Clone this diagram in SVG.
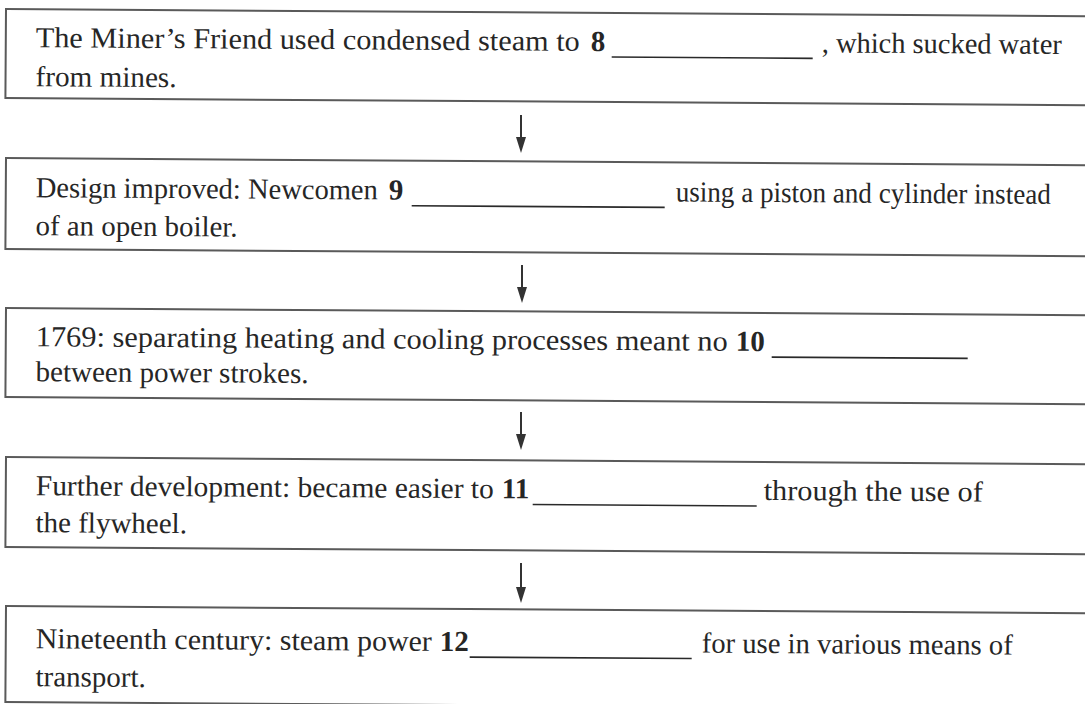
<svg xmlns="http://www.w3.org/2000/svg" width="1085" height="704" viewBox="0 0 1085 704">
  <style>
    .box { fill: #ffffff; stroke: #5a5a5a; stroke-width: 2; }
    .t { font-family: "Liberation Serif", "Times New Roman", serif; font-size: 29px; fill: #262626; }
    .b { font-weight: bold; }
    .blank { stroke: #2a2a2a; stroke-width: 1.6; }
    .conn { stroke: #333333; stroke-width: 2; fill: none; }
  </style>
  <defs>
    <marker id="arrow" viewBox="0 0 16 10" refX="6" refY="5" markerWidth="16" markerHeight="10" markerUnits="userSpaceOnUse" orient="auto">
      <path d="M0,0 L16,5 L0,10 z" fill="#333333"/>
    </marker>
  </defs>
  <rect x="0" y="0" width="1085" height="704" fill="#ffffff"/>

  <g id="step1" transform="rotate(0.38 6 9)">
    <rect class="box" x="6" y="9" width="1100" height="89"/>
    <text class="t" x="36" y="47" textLength="544" lengthAdjust="spacingAndGlyphs">The Miner’s Friend used condensed steam to</text>
    <text class="t b" x="591" y="47">8</text>
    <line class="blank" x1="612" y1="53" x2="813" y2="53"/>
    <text class="t" x="822" y="47" textLength="240" lengthAdjust="spacingAndGlyphs">, which sucked water</text>
    <text class="t" x="36" y="86" textLength="141" lengthAdjust="spacingAndGlyphs">from mines.</text>
  </g>

  <g id="step2" transform="rotate(0.38 6 158)">
    <rect class="box" x="6" y="158" width="1100" height="91"/>
    <text class="t" x="36" y="197" textLength="342" lengthAdjust="spacingAndGlyphs">Design improved: Newcomen</text>
    <text class="t b" x="389" y="197">9</text>
    <line class="blank" x1="412" y1="203" x2="665" y2="203"/>
    <text class="t" x="676" y="197" textLength="375" lengthAdjust="spacingAndGlyphs">using a piston and cylinder instead</text>
    <text class="t" x="36" y="235" textLength="202" lengthAdjust="spacingAndGlyphs">of an open boiler.</text>
  </g>

  <g id="step3" transform="rotate(0.38 6 308)">
    <rect class="box" x="6" y="308" width="1100" height="89"/>
    <text class="t" x="36" y="346" textLength="692" lengthAdjust="spacingAndGlyphs">1769: separating heating and cooling processes meant no</text>
    <text class="t b" x="736" y="346">10</text>
    <line class="blank" x1="772" y1="352" x2="968" y2="352"/>
    <text class="t" x="36" y="381">between power strokes.</text>
  </g>

  <g id="step4" transform="rotate(0.38 6 457)">
    <rect class="box" x="6" y="457" width="1100" height="90"/>
    <text class="t" x="36" y="495" textLength="458" lengthAdjust="spacingAndGlyphs">Further development: became easier to</text>
    <text class="t b" x="502" y="495">11</text>
    <line class="blank" x1="533" y1="501" x2="757" y2="501"/>
    <text class="t" x="764" y="495" textLength="219" lengthAdjust="spacingAndGlyphs">through the use of</text>
    <text class="t" x="36" y="532">the flywheel.</text>
  </g>

  <g id="step5" transform="rotate(0.38 6 606)">
    <rect class="box" x="6" y="606" width="1100" height="96"/>
    <text class="t" x="36" y="648" textLength="396" lengthAdjust="spacingAndGlyphs">Nineteenth century: steam power</text>
    <text class="t b" x="440" y="648">12</text>
    <line class="blank" x1="470" y1="654" x2="692" y2="654"/>
    <text class="t" x="702" y="648" textLength="311" lengthAdjust="spacingAndGlyphs">for use in various means of</text>
    <text class="t" x="36" y="686">transport.</text>
  </g>

  <g id="connectors">
    <line class="conn" x1="521" y1="115" x2="521" y2="143" marker-end="url(#arrow)"/>
    <line class="conn" x1="522" y1="265" x2="522" y2="293" marker-end="url(#arrow)"/>
    <line class="conn" x1="521" y1="412" x2="521" y2="440" marker-end="url(#arrow)"/>
    <line class="conn" x1="521" y1="563" x2="521" y2="593" marker-end="url(#arrow)"/>
  </g>
</svg>
